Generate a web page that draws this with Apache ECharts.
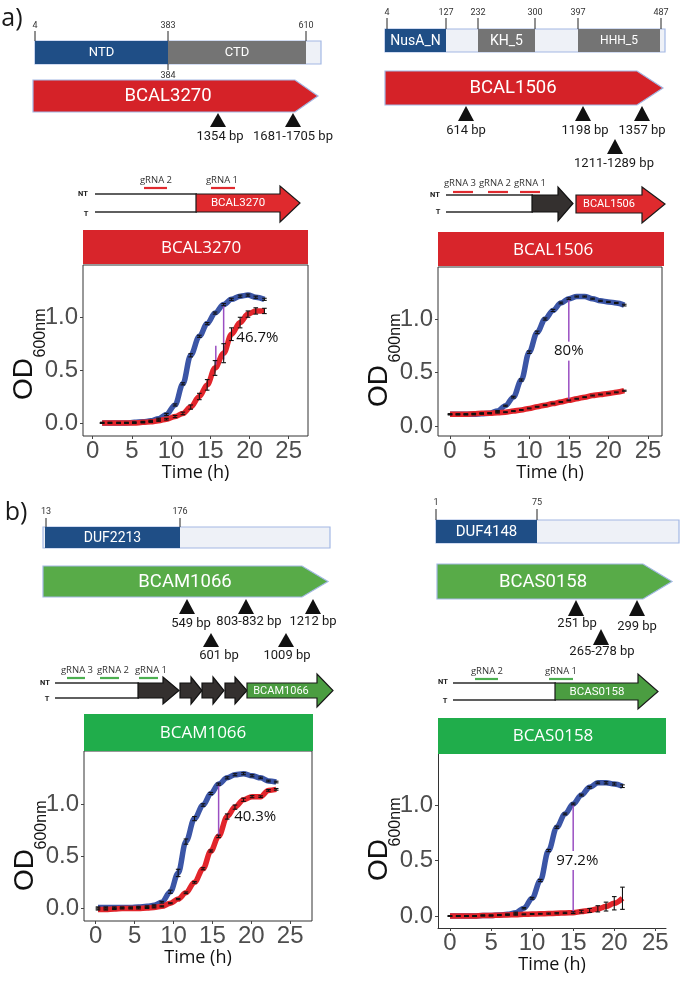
<!DOCTYPE html>
<html><head><meta charset="utf-8">
<script src="https://cdn.jsdelivr.net/npm/echarts@6/dist/echarts.min.js"></script>
<style>html,body{margin:0;padding:0;background:#fff}#c{width:685px;height:982px}</style>
</head><body><div id="c"></div>
<script>
// ================= DATA =================
const xTicks = [0, 5, 10, 15, 20, 25];
const yTicks = [0, 0.5, 1.0];

// Panel a, left: BCAL3270
const time_BCAL3270 = [1.2, 2.2, 3.3, 4.3, 5.3, 6.4, 7.4, 8.4, 9.4, 10.5, 11.5, 12.5, 13.6, 14.6, 15.6, 16.7, 17.7, 18.8, 19.8, 20.8, 21.9];
const ctrl_BCAL3270 = [0.00, 0.00, 0.00, 0.00, 0.005, 0.01, 0.02, 0.04, 0.08, 0.17, 0.37, 0.64, 0.82, 0.94, 1.04, 1.12, 1.17, 1.20, 1.21, 1.19, 1.17];
const ctrlErr_BCAL3270 = [0.005, 0.005, 0.005, 0.005, 0.005, 0.005, 0.005, 0.005, 0.01, 0.01, 0.01, 0.015, 0.01, 0.01, 0.01, 0.01, 0.01, 0.01, 0.01, 0.01, 0.01];
const kd_BCAL3270 = [0.00, 0.00, 0.00, 0.00, 0.00, 0.005, 0.01, 0.02, 0.035, 0.06, 0.09, 0.15, 0.25, 0.36, 0.52, 0.66, 0.84, 0.95, 1.03, 1.06, 1.06];
const kdErr_BCAL3270 = [0.005, 0.005, 0.005, 0.005, 0.005, 0.005, 0.005, 0.005, 0.008, 0.01, 0.012, 0.02, 0.03, 0.05, 0.07, 0.09, 0.06, 0.05, 0.03, 0.03, 0.025];
const gap_BCAL3270 = [[16.7, 1.12, 0.60], [15.7, 0.73, 0.55]];
const pct_BCAL3270 = ['46.7%', 21.0, 0.81];

// Panel a, right: BCAL1506
const time_BCAL1506 = [0, 1, 2, 3, 4, 5, 6, 7, 8, 9, 10, 11, 12, 13, 14, 15, 16, 17, 18, 19, 20, 21, 22];
const ctrl_BCAL1506 = [0.11, 0.11, 0.11, 0.11, 0.115, 0.12, 0.14, 0.19, 0.27, 0.43, 0.69, 0.875, 1.00, 1.08, 1.15, 1.19, 1.21, 1.21, 1.19, 1.17, 1.16, 1.15, 1.13];
const ctrlErr_BCAL1506 = [0.005, 0.005, 0.005, 0.005, 0.005, 0.005, 0.005, 0.005, 0.008, 0.01, 0.012, 0.012, 0.01, 0.01, 0.008, 0.008, 0.005, 0.005, 0.005, 0.005, 0.005, 0.005, 0.008];
const kd_BCAL1506 = [0.11, 0.11, 0.11, 0.115, 0.12, 0.12, 0.125, 0.13, 0.14, 0.15, 0.165, 0.18, 0.195, 0.21, 0.225, 0.24, 0.255, 0.27, 0.285, 0.295, 0.305, 0.315, 0.33];
const kdErr_BCAL1506 = [0.004, 0.004, 0.004, 0.004, 0.004, 0.004, 0.004, 0.004, 0.004, 0.004, 0.004, 0.004, 0.004, 0.004, 0.004, 0.004, 0.004, 0.004, 0.004, 0.004, 0.004, 0.004, 0.005];
const gap_BCAL1506 = [[15.0, 1.20, 0.24]];
const pct_BCAL1506 = ['80%', 15.0, 0.70];

// Panel b, left: BCAM1066
const time_BCAM1066 = [0.3, 1.3, 2.4, 3.4, 4.5, 5.5, 6.6, 7.5, 8.5, 9.6, 10.6, 11.6, 12.7, 13.8, 14.8, 15.8, 16.9, 17.9, 19.0, 20.1, 21.2, 22.2, 23.2];
const ctrl_BCAM1066 = [0.01, 0.01, 0.01, 0.01, 0.01, 0.015, 0.02, 0.03, 0.06, 0.16, 0.34, 0.64, 0.86, 0.99, 1.10, 1.19, 1.25, 1.28, 1.29, 1.27, 1.25, 1.22, 1.21];
const ctrlErr_BCAM1066 = [0.005, 0.005, 0.005, 0.005, 0.005, 0.005, 0.005, 0.005, 0.008, 0.015, 0.035, 0.025, 0.02, 0.012, 0.01, 0.01, 0.01, 0.01, 0.01, 0.01, 0.008, 0.008, 0.008];
const kd_BCAM1066 = [-0.01, -0.01, -0.005, 0.00, 0.00, 0.00, 0.005, 0.01, 0.02, 0.05, 0.09, 0.15, 0.25, 0.38, 0.55, 0.69, 0.88, 0.97, 1.04, 1.07, 1.07, 1.13, 1.14];
const kdErr_BCAM1066 = [0.005, 0.005, 0.005, 0.005, 0.005, 0.005, 0.005, 0.005, 0.005, 0.005, 0.006, 0.008, 0.008, 0.01, 0.01, 0.012, 0.025, 0.02, 0.015, 0.01, 0.008, 0.008, 0.008];
const gap_BCAM1066 = [[15.8, 1.19, 0.70]];
const pct_BCAM1066 = ['40.3%', 20.5, 0.875];

// Panel b, right: BCAS0158
const time_BCAS0158 = [0, 1, 2, 3, 4, 5, 6, 7, 8, 9, 10, 11, 12, 13, 14, 15, 16, 17, 18, 19, 20, 21];
const ctrl_BCAS0158 = [0.00, 0.00, 0.00, 0.00, 0.005, 0.005, 0.01, 0.015, 0.03, 0.07, 0.16, 0.32, 0.59, 0.80, 0.92, 1.01, 1.09, 1.16, 1.20, 1.20, 1.19, 1.17];
const ctrlErr_BCAS0158 = [0.004, 0.004, 0.004, 0.004, 0.004, 0.004, 0.004, 0.004, 0.005, 0.006, 0.008, 0.01, 0.01, 0.01, 0.008, 0.008, 0.008, 0.008, 0.008, 0.01, 0.01, 0.012];
const kd_BCAS0158 = [0.00, 0.00, 0.00, 0.00, 0.005, 0.005, 0.008, 0.01, 0.012, 0.015, 0.018, 0.02, 0.022, 0.025, 0.028, 0.03, 0.04, 0.05, 0.065, 0.085, 0.115, 0.16];
const kdErr_BCAS0158 = [0.004, 0.004, 0.004, 0.004, 0.004, 0.004, 0.004, 0.004, 0.004, 0.004, 0.004, 0.004, 0.005, 0.005, 0.006, 0.008, 0.012, 0.018, 0.028, 0.04, 0.06, 0.10];
const gap_BCAS0158 = [[15.0, 1.01, 0.03]];
const pct_BCAS0158 = ['97.2%', 15.5, 0.50];

// Diagram texts
const genes = ['BCAL3270', 'BCAL1506', 'BCAM1066', 'BCAS0158'];
const domains_BCAL3270 = ['NTD', 'CTD'];
const domainNums_BCAL3270 = ['4', '383', '610', '384'];
const domains_BCAL1506 = ['NusA_N', 'KH_5', 'HHH_5'];
const domainNums_BCAL1506 = ['4', '127', '232', '300', '397', '487'];
const domains_BCAM1066 = ['DUF2213'];
const domainNums_BCAM1066 = ['13', '176'];
const domains_BCAS0158 = ['DUF4148'];
const domainNums_BCAS0158 = ['1', '75'];
const sites_BCAL3270 = ['1354 bp', '1681-1705 bp'];
const sites_BCAL1506 = ['614 bp', '1198 bp', '1357 bp', '1211-1289 bp'];
const sites_BCAM1066 = ['549 bp', '803-832 bp', '1212 bp', '601 bp', '1009 bp'];
const sites_BCAS0158 = ['251 bp', '299 bp', '265-278 bp'];

// ================= STYLE / LAYOUT =================
const BLUE = '#3b55a6', RED = '#e2252b', PURPLE = '#9a4fc2';
const DOM_BLUE = '#1f4e86', DOM_GRAY = '#747474', DOM_LIGHT = '#eef1f7', DOM_EDGE = '#a3b8e4';
const GENE_RED = '#d52228', GENE_GREEN = '#58ab48';
const STRIP_RED = '#d8252b', STRIP_GREEN = '#20ad4b';
const TXT = 'Roboto', TICKF = 'Liberation Sans', LABF = 'Open Sans';

const panels = [
  {t: time_BCAL3270, c: ctrl_BCAL3270, ce: ctrlErr_BCAL3270, k: kd_BCAL3270, ke: kdErr_BCAL3270, gap: gap_BCAL3270, pct: pct_BCAL3270, pctBg: null,
   box: {l: 83, t: 265, w: 225, h: 171}, xr: [-1.24, 27.46], yr: [-0.124, 1.495], border: true, od: [379, 333]},
  {t: time_BCAL1506, c: ctrl_BCAL1506, ce: ctrlErr_BCAL1506, k: kd_BCAL1506, ke: kdErr_BCAL1506, gap: gap_BCAL1506, pct: pct_BCAL1506, pctBg: '#fff',
   box: {l: 438, t: 267, w: 224, h: 169}, xr: [-1.52, 26.77], yr: [-0.093, 1.486], border: true, od: [386, 338]},
  {t: time_BCAM1066, c: ctrl_BCAM1066, ce: ctrlErr_BCAM1066, k: kd_BCAM1066, ke: kdErr_BCAM1066, gap: gap_BCAM1066, pct: pct_BCAM1066, pctBg: null,
   box: {l: 84, t: 751, w: 228, h: 170}, xr: [-1.5, 27.8], yr: [-0.12, 1.507], border: true, od: [870, 825]},
  {t: time_BCAS0158, c: ctrl_BCAS0158, ce: ctrlErr_BCAS0158, k: kd_BCAS0158, ke: kdErr_BCAS0158, gap: gap_BCAS0158, pct: pct_BCAS0158, pctBg: '#fff',
   box: {l: 438, t: 754, w: 228, h: 174}, xr: [-1.46, 26.3], yr: [-0.108, 1.46], border: false, od: [860, 822]}
];

function txt(x, y, text, size, opt) {
  opt = opt || {};
  return {type: 'text', x: x, y: y, rotation: opt.rot || 0, z: opt.z || 10, silent: true,
    style: {text: text, fontSize: size, fontFamily: opt.font || TXT, fontWeight: opt.weight || 'normal',
      fill: opt.color || '#1a1a1a', align: opt.align || 'center', verticalAlign: 'middle',
      textAlign: opt.align || 'center', textVerticalAlign: 'middle'}};
}
function rect(x0, y0, x1, y1, fill, stroke, lw, z) {
  return {type: 'rect', z: z || 5, silent: true, shape: {x: x0, y: y0, width: x1 - x0, height: y1 - y0},
    style: {fill: fill, stroke: stroke || null, lineWidth: lw || 0}};
}
function seg(x1, y1, x2, y2, color, lw, z) {
  return {type: 'line', z: z || 6, silent: true, shape: {x1: x1, y1: y1, x2: x2, y2: y2}, style: {stroke: color, lineWidth: lw}};
}
function pentArrow(x0, x1, xh, y0, y1, fill, stroke) {
  return {type: 'polygon', z: 5, silent: true,
    shape: {points: [[x0, y0], [xh, y0], [x1, (y0 + y1) / 2], [xh, y1], [x0, y1]]},
    style: {fill: fill, stroke: stroke, lineWidth: 1.2}};
}
function headArrow(x0, xh, x1, y0, y1, hy0, hy1, fill, stroke) {
  const ym = (y0 + y1) / 2;
  return {type: 'polygon', z: 6, silent: true,
    shape: {points: [[x0, y0], [xh, y0], [xh, hy0], [x1, ym], [xh, hy1], [xh, y1], [x0, y1]]},
    style: {fill: fill, stroke: stroke, lineWidth: 1.2}};
}
function tri(x, y0, y1, w) {
  return {type: 'polygon', z: 6, silent: true, shape: {points: [[x, y0], [x + w / 2, y1], [x - w / 2, y1]]}, style: {fill: '#111'}};
}

const G = [];
// panel letters
G.push(txt(12, 19, 'a)', 25, {font: LABF}));
G.push(txt(16, 513, 'b)', 25, {font: LABF}));

// ---- Domain bars ----
function domainBar(x0, x1, y0, y1, segs, ticks) {
  G.push(rect(x0, y0, x1, y1, DOM_LIGHT, DOM_EDGE, 1.2, 4));
  segs.forEach(s => {
    G.push(rect(s[0], y0, s[1], y1, s[2], null, 0, 5));
    G.push(txt((s[0] + s[1]) / 2, (y0 + y1) / 2 + 0.5, s[3], s[4], {color: '#fff'}));
  });
  ticks.forEach(t => {
    G.push(seg(t[0], t[2], t[0], t[3], '#222', 1, 7));
    G.push(txt(t[0], t[4], t[1], 9, {color: '#333'}));
  });
}
domainBar(35, 321, 41, 64,
  [[35, 168, DOM_BLUE, domains_BCAL3270[0], 13], [168, 306, DOM_GRAY, domains_BCAL3270[1], 13]],
  [[35, domainNums_BCAL3270[0], 31, 41, 26], [168, domainNums_BCAL3270[1], 31, 41, 26], [306, domainNums_BCAL3270[2], 31, 41, 26], [168, domainNums_BCAL3270[3], 64, 70, 76]]);
domainBar(385, 665, 29, 52,
  [[385, 446, DOM_BLUE, domains_BCAL1506[0], 14], [478, 535, DOM_GRAY, domains_BCAL1506[1], 14], [578, 660, DOM_GRAY, domains_BCAL1506[2], 12]],
  [[387, domainNums_BCAL1506[0], 18, 29, 13], [446, domainNums_BCAL1506[1], 18, 29, 13], [478, domainNums_BCAL1506[2], 18, 29, 13],
   [535, domainNums_BCAL1506[3], 18, 29, 13], [578, domainNums_BCAL1506[4], 18, 29, 13], [661, domainNums_BCAL1506[5], 18, 29, 13]]);
domainBar(43, 330, 527, 548,
  [[45, 180, DOM_BLUE, domains_BCAM1066[0], 14]],
  [[46, domainNums_BCAM1066[0], 518, 527, 512], [180, domainNums_BCAM1066[1], 518, 527, 512]]);
domainBar(436, 679, 520, 543,
  [[436, 537, DOM_BLUE, domains_BCAS0158[0], 15]],
  [[436, domainNums_BCAS0158[0], 509, 520, 503], [537, domainNums_BCAS0158[1], 509, 520, 503]]);

// ---- Gene arrows ----
G.push(pentArrow(33, 318, 295, 80, 112, GENE_RED, DOM_EDGE));
G.push(txt(168, 96.5, genes[0], 18.5, {color: '#fff'}));
G.push(pentArrow(385, 663, 637, 71, 105, GENE_RED, DOM_EDGE));
G.push(txt(513, 88.5, genes[1], 18.5, {color: '#fff'}));
G.push(pentArrow(43, 328, 302, 566, 597, GENE_GREEN, DOM_EDGE));
G.push(txt(185, 582, genes[2], 18.5, {color: '#fff'}));
G.push(pentArrow(437, 672, 643, 564, 599, GENE_GREEN, DOM_EDGE));
G.push(txt(543, 582, genes[3], 18.5, {color: '#fff'}));

// ---- Insertion sites ----
function site(x, y0, y1, label, lx, ly) {
  G.push(tri(x, y0, y1, 16));
  G.push(txt(lx, ly, label, 13, {color: '#1a1a1a'}));
}
site(218, 113, 127, sites_BCAL3270[0], 220, 137);
site(293, 113, 127, sites_BCAL3270[1], 293, 137);
site(466, 106, 121, sites_BCAL1506[0], 466, 131);
site(583, 106, 121, sites_BCAL1506[1], 585, 131);
site(642, 106, 121, sites_BCAL1506[2], 642, 131);
site(615, 139, 154, sites_BCAL1506[3], 614, 164);
site(187, 599, 614, sites_BCAM1066[0], 191, 624);
site(246, 599, 614, sites_BCAM1066[1], 249, 622);
site(313, 599, 614, sites_BCAM1066[2], 313, 622);
site(211, 633, 647, sites_BCAM1066[3], 219, 656);
site(286, 633, 647, sites_BCAM1066[4], 287, 656);
site(576, 600, 616, sites_BCAS0158[0], 577, 624);
site(637, 600, 616, sites_BCAS0158[1], 637, 627);
site(601, 629, 645, sites_BCAS0158[2], 602, 652);

// ---- CRISPRi constructs ----
function strands(ntx, nty, tx, ty, x0, x1, yNT, yT) {
  G.push(txt(ntx, nty, 'NT', 7.5, {weight: 'bold', color: '#222'}));
  G.push(txt(tx, ty, 'T', 7.5, {weight: 'bold', color: '#222'}));
  G.push(seg(x0, yNT, x1, yNT, '#2a2a2a', 1.5));
  G.push(seg(x0, yT, x1, yT, '#2a2a2a', 1.5));
}
function grna(label, x, xa, xb, ly, dy, color) {
  G.push(txt(x, ly, label, 9.5, {font: LABF, color: '#333'}));
  G.push(seg(xa, dy, xb, dy, color, 2.2));
}
const DARK = '#34302f', CON_RED = '#df2a2e', CON_GREEN = '#4b9d41';
// a left
strands(83, 194, 86, 214, 95, 197, 194, 212);
G.push(headArrow(196, 280, 300, 194, 212, 186, 222, CON_RED, '#1a1a1a'));
G.push(txt(238, 203.5, genes[0], 11.5, {color: '#fff'}));
grna('gRNA 2', 156, 144, 167, 180, 188, '#e02a2f');
grna('gRNA 1', 222, 211, 235, 180, 188, '#e02a2f');
// a right
strands(435, 195, 438, 212, 446, 533, 195, 212);
G.push(headArrow(532, 558, 573, 195, 212, 187, 221, DARK, '#111'));
G.push(headArrow(576, 642, 665, 195, 213, 187, 223, CON_RED, '#1a1a1a'));
G.push(txt(609, 204.5, genes[1], 11, {color: '#fff'}));
grna('gRNA 3', 460, 453, 473, 183, 192, '#e02a2f');
grna('gRNA 2', 495, 488, 508, 183, 192, '#e02a2f');
grna('gRNA 1', 530, 520, 540, 183, 192, '#e02a2f');
// b left
strands(45, 683, 47, 699, 55, 139, 683, 698);
[[138, 163, 179], [180, 191, 202], [202, 213, 224], [225, 235, 247]].forEach(a => {
  G.push(headArrow(a[0], a[1], a[2], 683, 698, 677, 704, DARK, '#111'));
});
G.push(headArrow(247, 317, 333, 683, 698, 674, 707, CON_GREEN, '#1a1a1a'));
G.push(txt(281, 691, genes[2], 11, {color: '#fff'}));
grna('gRNA 3', 77, 67, 85, 670, 678, '#4caf50');
grna('gRNA 2', 113, 100, 119, 670, 678, '#4caf50');
grna('gRNA 1', 151, 139, 158, 670, 678, '#4caf50');
// b right
strands(443, 682, 445, 701, 453, 556, 683, 700);
G.push(headArrow(555, 638, 658, 683, 700, 674, 709, CON_GREEN, '#1a1a1a'));
G.push(txt(597, 692, genes[3], 11.5, {color: '#fff'}));
grna('gRNA 2', 487, 475, 498, 671, 679, '#4caf50');
grna('gRNA 1', 561, 549, 573, 671, 679, '#4caf50');

// ---- Strips ----
G.push(rect(83, 230, 308, 264, STRIP_RED)); G.push(txt(201, 248, genes[0], 17, {font: LABF, color: '#fff'}));
G.push(rect(438, 232, 664, 266, STRIP_RED)); G.push(txt(553, 250, genes[1], 17, {font: LABF, color: '#fff'}));
G.push(rect(84, 714, 313, 751, STRIP_GREEN)); G.push(txt(203, 733, genes[2], 17, {font: LABF, color: '#fff'}));
G.push(rect(438, 718, 666, 754, STRIP_GREEN)); G.push(txt(553, 736, genes[3], 17, {font: LABF, color: '#fff'}));

// ---- y axis titles ----
panels.forEach(p => {
  const cx = p.box.l - 59;
  G.push(txt(cx, p.od[0], 'OD', 28, {font: TICKF, rot: Math.PI / 2, color: '#111'}));
  G.push(txt(cx + 17, p.od[1], '600nm', 16, {font: TICKF, rot: Math.PI / 2, color: '#111'}));
});

// ================= CHART =================
const grids = [], xAxes = [], yAxes = [], series = [];
panels.forEach((p, i) => {
  grids.push({left: p.box.l, top: p.box.t, width: p.box.w, height: p.box.h, show: p.border, borderColor: '#333', borderWidth: 1, containLabel: false});
  xAxes.push({gridIndex: i, type: 'value', min: p.xr[0], max: p.xr[1],
    axisLine: {show: !p.border, onZero: false, lineStyle: {color: '#333', width: 1}},
    axisTick: {show: true, length: 3, customValues: xTicks, lineStyle: {color: '#444'}},
    axisLabel: {customValues: xTicks, margin: 3, fontSize: 24, fontFamily: TICKF, color: '#4d4d4d'},
    splitLine: {show: false},
    name: 'Time (h)', nameLocation: 'middle', nameGap: 26,
    nameTextStyle: {fontSize: 18, fontFamily: LABF, color: '#111'}});
  yAxes.push({gridIndex: i, type: 'value', min: p.yr[0], max: p.yr[1],
    axisLine: {show: !p.border, onZero: false, lineStyle: {color: '#333', width: 1}},
    axisTick: {show: true, length: 3, customValues: yTicks, lineStyle: {color: '#444'}},
    axisLabel: {customValues: yTicks, margin: 5, fontSize: 24, fontFamily: TICKF, color: '#4d4d4d', formatter: v => v.toFixed(1)},
    splitLine: {show: false}});
  const ctrlData = p.t.map((x, j) => [x, p.c[j]]);
  const kdData = p.t.map((x, j) => [x, p.k[j]]);
  series.push({type: 'line', xAxisIndex: i, yAxisIndex: i, data: ctrlData, smooth: 0.35, smoothMonotone: 'x',
    showSymbol: false, lineStyle: {color: BLUE, width: 5.5}, z: 2, silent: true});
  series.push({type: 'line', xAxisIndex: i, yAxisIndex: i, data: kdData, smooth: 0.35, smoothMonotone: 'x',
    showSymbol: false, lineStyle: {color: RED, width: 5.5}, z: 3, silent: true});
  series.push({type: 'custom', xAxisIndex: i, yAxisIndex: i, z: 4, silent: true, data: p.gap,
    renderItem: (params, api) => {
      const a = api.coord([api.value(0), api.value(1)]);
      const b = api.coord([api.value(0), api.value(2)]);
      return {type: 'line', shape: {x1: a[0], y1: a[1], x2: b[0], y2: b[1]}, style: {stroke: PURPLE, lineWidth: 1.5}};
    }});
  [[p.c, p.ce], [p.k, p.ke]].forEach(pair => {
    series.push({type: 'custom', xAxisIndex: i, yAxisIndex: i, z: 5, silent: true,
      data: p.t.map((x, j) => [x, pair[0][j] - pair[1][j], pair[0][j] + pair[1][j]]),
      renderItem: (params, api) => {
        const x = api.value(0);
        const lo = api.coord([x, api.value(1)]);
        const hi = api.coord([x, api.value(2)]);
        const w = 2.3, st = {stroke: '#111', lineWidth: 1.1};
        return {type: 'group', children: [
          {type: 'line', shape: {x1: lo[0], y1: lo[1], x2: hi[0], y2: hi[1]}, style: st},
          {type: 'line', shape: {x1: lo[0] - w, y1: lo[1], x2: lo[0] + w, y2: lo[1]}, style: st},
          {type: 'line', shape: {x1: hi[0] - w, y1: hi[1], x2: hi[0] + w, y2: hi[1]}, style: st}
        ]};
      }});
  });
  const bg = p.pctBg;
  series.push({type: 'custom', xAxisIndex: i, yAxisIndex: i, z: 6, silent: true, data: [[p.pct[1], p.pct[2]]],
    renderItem: (params, api) => {
      const c = api.coord([api.value(0), api.value(1)]);
      return {type: 'text', x: c[0], y: c[1], style: {text: p.pct[0], fontSize: 15, fontFamily: LABF, fill: '#111',
        align: 'center', verticalAlign: 'middle', textAlign: 'center', textVerticalAlign: 'middle',
        backgroundColor: bg || 'transparent', padding: bg ? [2, 1] : 0}};
    }});
});

const chart = echarts.init(document.getElementById('c'), null, {renderer: 'canvas'});
chart.setOption({
  animation: false,
  backgroundColor: '#fff',
  grid: grids, xAxis: xAxes, yAxis: yAxes, series: series,
  graphic: {elements: G}
});
</script></body></html>
